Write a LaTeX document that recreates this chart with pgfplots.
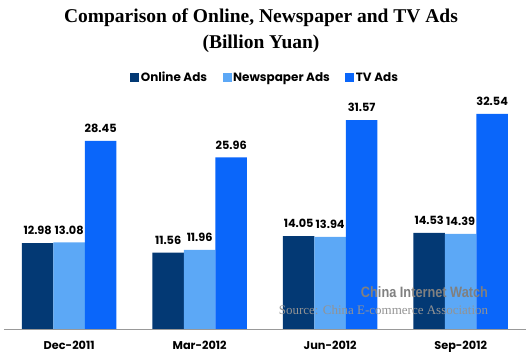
\documentclass[border=0pt]{standalone}
\usepackage{fontspec}
\setmainfont{Poppins}
\newfontfamily\titlefont{Liberation Serif}
\newfontfamily\wmfont{Liberation Sans}
\usepackage{pgfplots}
\pgfplotsset{compat=1.18}
\definecolor{cOnline}{RGB}{3,57,116}
\definecolor{cNews}{RGB}{92,168,246}
\definecolor{cTV}{RGB}{10,102,250}
\begin{document}
\begin{tikzpicture}[x=1pt,y=1pt]
\useasboundingbox (0,0) rectangle (529,360);
\node[align=center,font=\titlefont\bfseries\fontsize{19.5}{26}\selectfont] at (261,329) {Comparison of Online, Newspaper and TV Ads\\(Billion Yuan)};
\begin{axis}[
  at={(3,47)}, anchor=south west,
  scale only axis, width=522pt, height=238pt,
  xmin=-0.5, xmax=3.5, ymin=0, ymax=36,
  axis y line=none, axis x line=bottom,
  x axis line style={-, draw=gray!80},
  xtick={0,1,2,3},
  xticklabels={Dec-2011,Mar-2012,Jun-2012,Sep-2012},
  xtick style={draw=none},
  xticklabel style={font=\bfseries\fontsize{11.3}{12}\selectfont, yshift=-4pt},
  ytick=\empty,
  ybar=0pt, bar width=31.5pt,
  nodes near coords,
  /pgf/number format/assume math mode=true,
  /pgf/number format/.cd, fixed, precision=2, fixed zerofill, /pgfplots/.cd,
  nodes near coords style={font=\bfseries\fontsize{11.3}{12}\selectfont, black, inner sep=2pt, yshift=6pt},
  legend style={at={(0.5,1.055)}, anchor=center, draw=none, fill=none,
    legend columns=3, font=\bfseries\fontsize{12}{13}\selectfont,
    /tikz/every even column/.append style={column sep=14pt},
    nodes={inner xsep=1.5pt}},
  legend image code/.code={\fill[#1] (0pt,-4.5pt) rectangle (9pt,4.5pt);},
]
\addplot[fill=cOnline, draw=none] coordinates {(0,12.98) (1,11.56) (2,14.05) (3,14.53)};
\addplot[fill=cNews, draw=none] coordinates {(0,13.08) (1,11.96) (2,13.94) (3,14.39)};
\addplot[fill=cTV, draw=none] coordinates {(0,28.45) (1,25.96) (2,31.57) (3,32.54)};
\legend{Online Ads, Newspaper Ads, TV Ads}
\end{axis}
\node[font=\wmfont\bfseries\fontsize{15}{16}\selectfont, text=gray!100!black, xscale=0.85] at (424.5,68) {China Internet Watch};
\node[font=\titlefont\fontsize{13}{14}\selectfont, text=gray!85] at (383.5,50) {Source: China E-commerce Association};
\end{tikzpicture}
\end{document}
